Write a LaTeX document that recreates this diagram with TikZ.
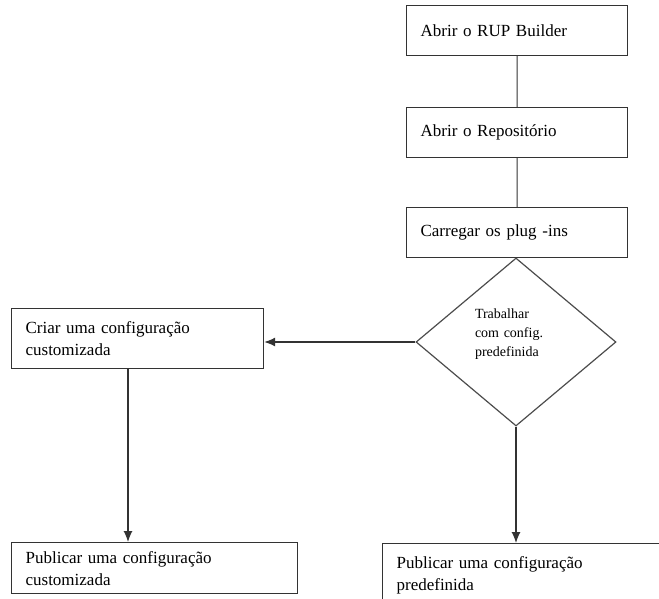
\documentclass[tikz,border=0pt]{standalone}
\usepackage{fontspec}
\setmainfont{Liberation Serif}
\usetikzlibrary{calc, shapes.geometric, arrows.meta}
\newcommand{\boxfont}{\fontsize{17}{22}\selectfont}
\newcommand{\decfont}{\fontsize{14}{19}\selectfont}
\tikzstyle{stepbox} = [draw=black!80,line width=1.2pt,rectangle,anchor=north west,align=left,inner xsep=14pt,inner ysep=0pt,font=\boxfont]
\tikzstyle{decision} = [draw=black!70,line width=1.2pt,diamond,minimum width=200pt,minimum height=168pt,inner sep=0pt,text width=82pt,align=left,font=\decfont]
\tikzstyle{flow} = [draw=black!80,line width=1.2pt]
\tikzstyle{flowarrow} = [flow,-{Latex[length=11pt,width=9pt]}]

\begin{document}
\begin{tikzpicture}[x=1pt,y=-1pt]
			\useasboundingbox (0,0) rectangle (659,599);
			\clip (0,0) rectangle (659,599);
			
			%% nodes
			\node[stepbox,text width=193pt,minimum height=50pt] (rup) at (406,5) {Abrir o RUP Builder};
			\node[stepbox,text width=193pt,minimum height=50pt] (repo) at (406,107) {Abrir o Reposit\'orio};
			\node[stepbox,text width=193pt,minimum height=50pt] (plug) at (406,207) {Carregar os plug -ins};
			\node[decision] (trab) at (516,342) {Trabalhar\\com config.\\predefinida\\\mbox{}};
			\node[stepbox,text width=224pt,minimum height=60pt] (criar) at (11,308) {Criar uma configura\c{c}\~ao\\customizada};
			\node[stepbox,text width=258pt,minimum height=51pt] (pubcust) at (11,542) {Publicar uma configura\c{c}\~ao\\customizada};
			\node[stepbox,text width=260pt,minimum height=64pt] (pubpre) at (382,543) {Publicar uma configura\c{c}\~ao\\predefinida};
			\coordinate (down) at (128,0);
			
			%% edges
			\draw[flow] (rup) -- (repo) -- (plug) -- (trab);
			\draw[flowarrow] (trab.west) -- (trab.west -| criar.east);
			\draw[flowarrow] (criar.south -| down) -- (pubcust.north -| down);
			\draw[flowarrow] (trab.south) -- (trab.south |- pubpre.north);
		\end{tikzpicture}
\end{document}
